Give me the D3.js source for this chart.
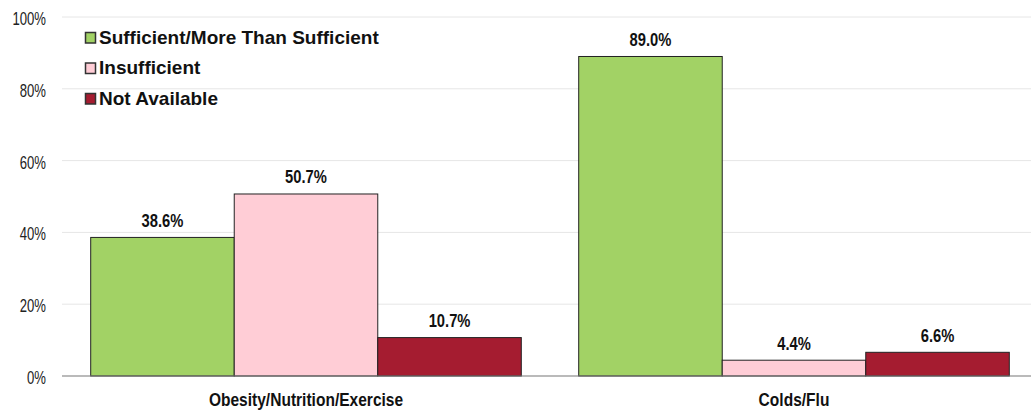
<!DOCTYPE html>
<html lang="en">
<head>
  <meta charset="UTF-8">
  <title>Health Topics - Grouped Bar Chart</title>
  <script src="https://d3js.org/d3.v7.min.js"></script>
  <style>
    body {
      margin: 0;
      background: #fff;
      font-family: "Liberation Sans", Arial, sans-serif;
    }
    .grid line {
      stroke: #e6e6e6;
    }
    .tick-label {
      font-size: 17.5px;
      fill: #222;
    }
    .value-label {
      font-size: 18px;
      font-weight: bold;
      fill: #111;
    }
    .cat-label {
      font-size: 18.5px;
      font-weight: bold;
      fill: #111;
    }
    .legend-text {
      font-size: 19px;
      font-weight: bold;
      fill: #111;
    }
  </style>
</head>
<body>
  <svg width="1031" height="411"></svg>

  <script>
    const categories = ["Obesity/Nutrition/Exercise", "Colds/Flu"];
    const seriesNames = ["Sufficient/More Than Sufficient", "Insufficient", "Not Available"];
    const sufficient = [38.6, 89.0];
    const insufficient = [50.7, 4.4];
    const notAvailable = [10.7, 6.6];
    const yTicks = [0, 20, 40, 60, 80, 100];

    const colors = ["#a2d265", "#ffcdd6", "#a51c30"];
    const seriesValues = [sufficient, insufficient, notAvailable];

    const svg = d3.select("svg");
    const plot = {left: 62, right: 1038, top: 17, bottom: 376};

    const y = d3.scaleLinear().domain([0, 100]).range([plot.bottom, plot.top]);

    const x0 = d3.scaleBand()
                 .domain(categories)
                 .range([plot.left, plot.right])
                 .padding(0);

    const x1 = d3.scaleBand()
                 .domain(seriesNames)
                 .range([0, x0.bandwidth()])
                 .paddingInner(0)
                 .paddingOuter(0.2);

    // chart text is narrow (condensed look), squeeze it horizontally
    const place = (x, yy, sx) => `translate(${x},${yy}) scale(${sx},1)`;

    // Gridlines
    svg.append("g")
      .attr("class", "grid")
      .selectAll("line")
      .data(yTicks.slice(1))
      .enter()
      .append("line")
        .attr("x1", plot.left)
        .attr("x2", plot.right)
        .attr("y1", d => y(d))
        .attr("y2", d => y(d));

    // Y tick labels
    svg.append("g")
      .selectAll("text")
      .data(yTicks)
      .enter()
      .append("text")
        .attr("class", "tick-label")
        .attr("transform", d => place(46, y(d) + 8, 0.75))
        .attr("text-anchor", "end")
        .text(d => d + "%");

    // Bars
    const data = [];
    categories.forEach((c, i) => {
      seriesNames.forEach((s, j) => {
        data.push({cat: c, series: s, value: seriesValues[j][i], color: colors[j]});
      });
    });

    svg.append("g")
      .selectAll("rect")
      .data(data)
      .enter()
      .append("rect")
        .attr("x", d => x0(d.cat) + x1(d.series))
        .attr("y", d => y(d.value))
        .attr("width", x1.bandwidth())
        .attr("height", d => plot.bottom - y(d.value))
        .attr("fill", d => d.color)
        .attr("stroke", "#222")
        .attr("stroke-width", 1);

    // Value labels
    svg.append("g")
      .selectAll("text")
      .data(data)
      .enter()
      .append("text")
        .attr("class", "value-label")
        .attr("transform", d => place(x0(d.cat) + x1(d.series) + x1.bandwidth() / 2, y(d.value) - 10.5, 0.82))
        .attr("text-anchor", "middle")
        .text(d => d.value.toFixed(1) + "%");

    // X axis line
    svg.append("line")
      .attr("x1", plot.left)
      .attr("x2", plot.right)
      .attr("y1", plot.bottom)
      .attr("y2", plot.bottom)
      .attr("stroke", "#777")
      .attr("stroke-width", 1.2);

    // Category labels
    svg.append("g")
      .selectAll("text")
      .data(categories)
      .enter()
      .append("text")
        .attr("class", "cat-label")
        .attr("transform", d => place(x0(d) + x0.bandwidth() / 2, 405.5, 0.84))
        .attr("text-anchor", "middle")
        .text(d => d);

    // Legend
    const legend = svg.append("g")
      .selectAll("g")
      .data(seriesNames)
      .enter()
      .append("g")
        .attr("transform", (d, i) => `translate(85,${43.5 + i * 30.5})`);

    legend.append("rect")
      .attr("x", 0.5)
      .attr("y", -11)
      .attr("width", 10)
      .attr("height", 10.5)
      .attr("fill", (d, i) => colors[i])
      .attr("stroke", "#333")
      .attr("stroke-width", 1.5);

    legend.append("text")
      .attr("class", "legend-text")
      .attr("x", 14)
      .attr("y", 0)
      .text(d => d);
  </script>
</body>
</html>
